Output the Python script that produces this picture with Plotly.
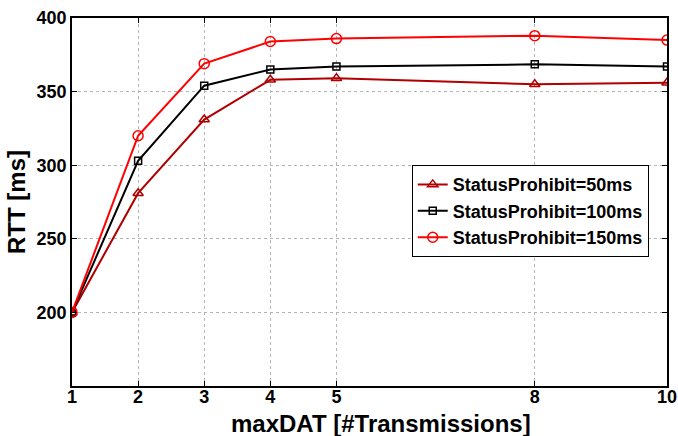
import plotly.graph_objects as go

x_vals = [1, 2, 3, 4, 5, 8, 10]
rtt_50 = [200, 281, 331, 358, 359, 355, 356]
rtt_100 = [200, 303, 354, 365, 367, 368.5, 367]
rtt_150 = [200, 320, 369, 384, 386, 388, 385]
x_ticks = [1, 2, 3, 4, 5, 8, 10]
y_ticks = [200, 250, 300, 350, 400]

FONT = "Liberation Sans, Arial, sans-serif"

fig = go.Figure()
series = [
    ("StatusProhibit=50ms", rtt_50, "#B00000", "triangle-up-open", 9),
    ("StatusProhibit=100ms", rtt_100, "#000000", "square-open", 7),
    ("StatusProhibit=150ms", rtt_150, "#FF0000", "circle-open", 10),
]
for name, ys, color, sym, size in series:
    fig.add_trace(go.Scatter(
        x=x_vals, y=ys, name=name, mode="lines+markers",
        line=dict(color=color, width=2),
        marker=dict(symbol=sym, size=size, color=color, line=dict(width=1.5, color=color)),
    ))

axis_common = dict(
    showline=True, linecolor="black", linewidth=1.5, mirror="ticks",
    ticks="inside", ticklen=5, tickcolor="black",
    showgrid=True, gridcolor="#b4b4b4", griddash="dot", gridwidth=1,
    zeroline=False, automargin=False,
    tickfont=dict(family=FONT, size=18, color="black", weight="bold"),
)

fig.update_layout(
    width=678, height=436,
    margin=dict(l=72, r=11, t=18, b=50),
    paper_bgcolor="white", plot_bgcolor="white",
    xaxis=dict(range=[1, 10], tickvals=x_ticks, ticktext=[str(v) for v in x_ticks],
               ticklabelstandoff=-6,
               **axis_common),
    yaxis=dict(range=[150, 400], tickvals=y_ticks,
               title=dict(text="RTT [ms]", standoff=4,
                          font=dict(family=FONT, size=24, color="black", weight="bold")),
               **axis_common),
    legend=dict(x=0.571, y=0.60, xanchor="left", yanchor="top",
                bgcolor="white", bordercolor="black", borderwidth=1,
                font=dict(family=FONT, size=18, color="black", weight="bold"),
                tracegroupgap=0, itemwidth=30),
    showlegend=True,
    annotations=[dict(
        text="maxDAT [#Transmissions]", xref="paper", yref="paper",
        x=0.52, y=-0.102, xanchor="center", yanchor="middle", showarrow=False,
        font=dict(family=FONT, size=24, color="black", weight="bold"),
    )],
)

fig.write_html("out.html")
